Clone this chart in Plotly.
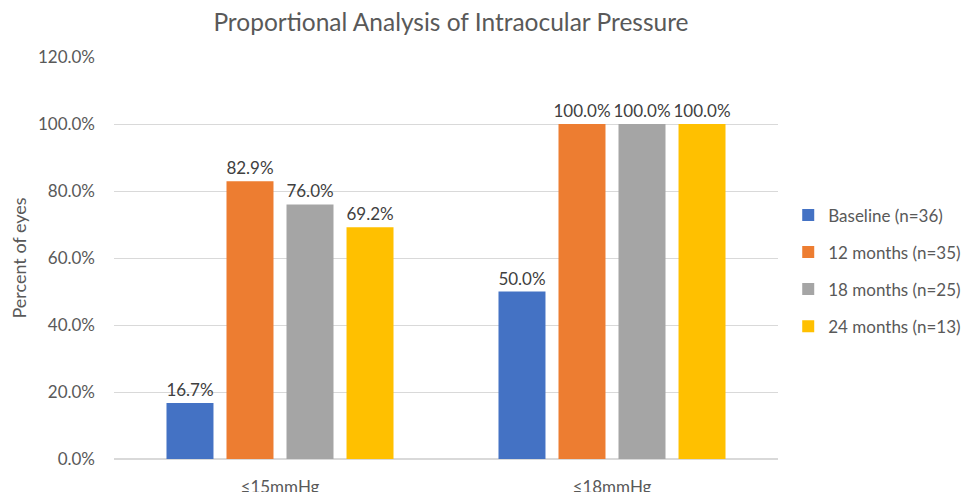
import plotly.graph_objects as go

categories = ["≤15mmHg", "≤18mmHg"]
series_names = ["Baseline (n=36)", "12 months (n=35)", "18 months (n=25)", "24 months (n=13)"]
baseline = [0.167, 0.500]
m12 = [0.829, 1.000]
m18 = [0.760, 1.000]
m24 = [0.692, 1.000]
colors = ["#4472C4", "#ED7D31", "#A5A5A5", "#FFC000"]

fig = go.Figure()
for i, (name, vals) in enumerate(zip(series_names, [baseline, m12, m18, m24])):
    fig.add_trace(go.Bar(
        x=categories, y=vals, name=name, marker_color=colors[i],
        marker_line_width=0,
        text=vals, texttemplate="%{y:.1%}", textposition="outside",
        textfont=dict(size=17, color="#404040"), cliponaxis=False,
        constraintext="none",
        legendgroup=name,
    ))

# the page body has an 8px margin, so the figure is sized/offset to compensate
fig.update_layout(
    width=961, height=484,
    paper_bgcolor="white", plot_bgcolor="white",
    font=dict(family="Lato", color="#595959"),
    title=dict(text="Proportional Analysis of Intraocular Pressure", x=0.5075, xref="paper",
               y=0.97, yanchor="middle", font=dict(size=24.5, color="#595959")),
    margin=dict(l=106, r=191, t=49, b=33, autoexpand=False),
    barmode="group", bargap=0.277, bargroupgap=0.217,
    legend=dict(x=1.0154, y=0.468, yanchor="middle", xanchor="left",
                font=dict(size=17, color="#595959"), tracegroupgap=12,
                itemwidth=30),
    xaxis=dict(showline=True, linecolor="#d9d9d9", tickfont=dict(size=17),
               ticks="", ticklabelstandoff=13, automargin=False),
    yaxis=dict(range=[0, 1.2], dtick=0.2, tickformat=".1%", showgrid=True,
               gridcolor="#d9d9d9", zeroline=True, zerolinecolor="#d9d9d9",
               tickfont=dict(size=17), ticklabelstandoff=18, automargin=False,
               title=dict(text="Percent of eyes", font=dict(size=18), standoff=8)),
    showlegend=True,
)

fig.write_html("out.html")
